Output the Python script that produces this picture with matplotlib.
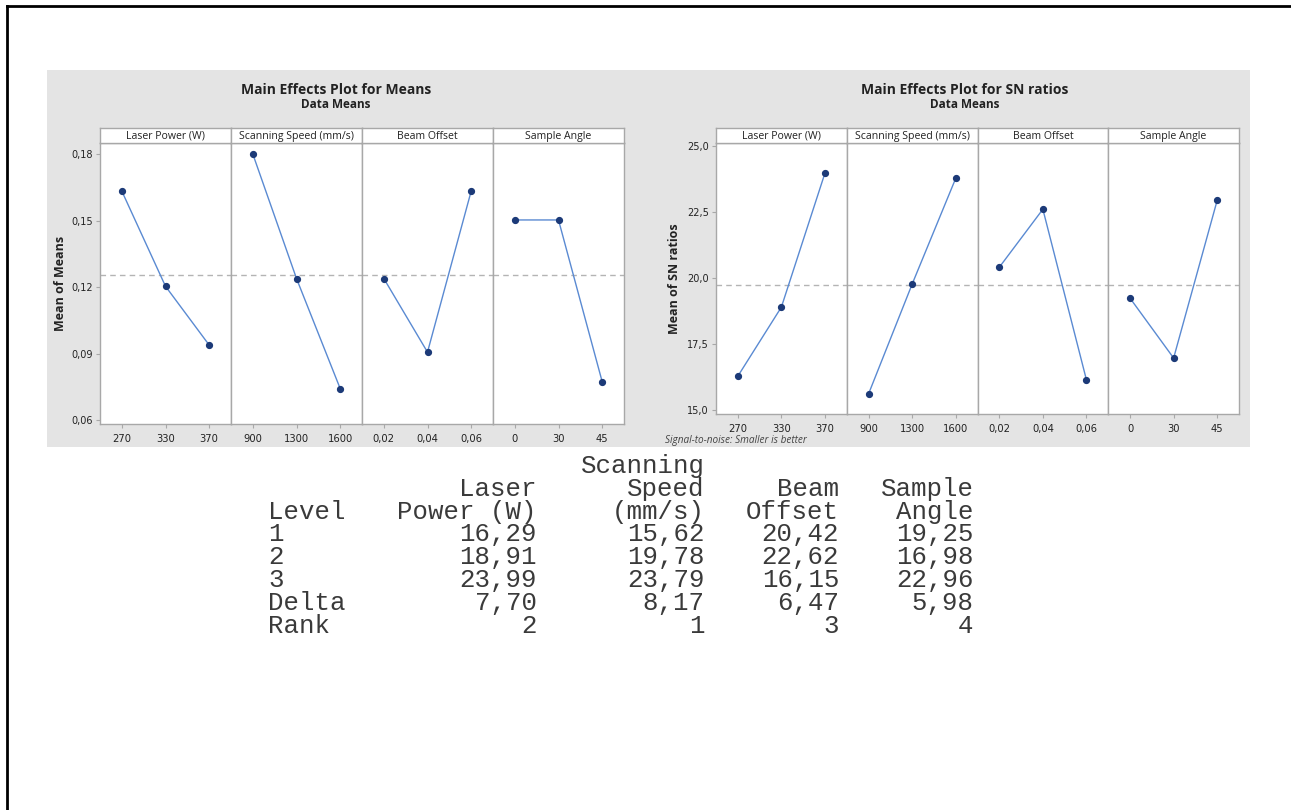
import matplotlib.pyplot as plt
from matplotlib.patches import Rectangle
from matplotlib.lines import Line2D

# Factors and their levels
factors = ['Laser Power (W)', 'Scanning Speed (mm/s)', 'Beam Offset', 'Sample Angle']
levels = [['270', '330', '370'], ['900', '1300', '1600'],
          ['0,02', '0,04', '0,06'], ['0', '30', '45']]

# Main effects for means
means_lp = [0.1633, 0.1204, 0.0939]
means_ss = [0.1800, 0.1239, 0.0743]
means_bo = [0.1239, 0.0907, 0.1633]
means_sa = [0.1503, 0.1503, 0.0774]
grand_mean = 0.1257

# Main effects for SN ratios (from the response table)
sn_lp = [16.29, 18.91, 23.99]
sn_ss = [15.62, 19.78, 23.79]
sn_bo = [20.42, 22.62, 16.15]
sn_sa = [19.25, 16.98, 22.96]
grand_sn = 19.73
delta = [7.70, 8.17, 6.47, 5.98]
rank = [2, 1, 3, 4]

# response table headers (three header lines per column)
row_names = ['1', '2', '3', 'Delta', 'Rank']
col_heads = [['', '', 'Level'], ['', 'Laser', 'Power (W)'], ['Scanning', 'Speed', '(mm/s)'],
             ['', 'Beam', 'Offset'], ['', 'Sample', 'Angle']]

means_ticks = [0.06, 0.09, 0.12, 0.15, 0.18]
means_ticklabels = ['0,06', '0,09', '0,12', '0,15', '0,18']
sn_ticks = [15.0, 17.5, 20.0, 22.5, 25.0]
sn_ticklabels = ['15,0', '17,5', '20,0', '22,5', '25,0']

W, H = 1291, 810
fig = plt.figure(figsize=(W / 100, H / 100), dpi=100)
fig.patch.set_facecolor('white')


def box(x0, y0, x1, y1):
    # pixel box (top-left origin) -> figure fraction
    return [x0 / W, 1 - y1 / H, (x1 - x0) / W, (y1 - y0) / H]


def fx(x):
    return x / W


def fy(y):
    return 1 - y / H


# outer frame (only top and left edges are visible in the picture)
fig.add_artist(Line2D([fx(7), fx(7)], [fy(6), 0], color='black', lw=2))
fig.add_artist(Line2D([fx(7), 1], [fy(6), fy(6)], color='black', lw=2))

# gray background band for the two Minitab graphs
fig.add_artist(Rectangle((fx(47), fy(447)), fx(1250) - fx(47), fy(70) - fy(447),
                         facecolor='#e4e4e4', edgecolor='none', zorder=0))

frame_col = '#a8a8a8'
line_col = '#5a8ad2'
dot_col = '#1c3a78'
txt_col = '#222222'


def effects_plot(x0, x1, top, strip_bot, bottom, data, ylim, ticks, ticklabels,
                 ylabel, ylab_x, grand):
    pw = (x1 - x0) / 4.0
    for i in range(4):
        left = x0 + i * pw
        ax = fig.add_axes(box(left, strip_bot, left + pw, bottom))
        ax.set_facecolor('white')
        ax.plot([0, 1, 2], data[i], color=line_col, lw=1.0, marker='o',
                ms=4.2, mfc=dot_col, mec=dot_col, zorder=3)
        ax.axhline(grand, color='#b4b4b4', lw=1.0, ls=(0, (4, 3)), zorder=2)
        ax.set_xlim(-0.5, 2.5)
        ax.set_ylim(*ylim)
        ax.set_xticks([0, 1, 2])
        ax.set_xticklabels(levels[i], fontsize=7.2, color=txt_col)
        ax.tick_params(axis='x', length=3, color=frame_col, pad=4)
        if i == 0:
            ax.set_yticks(ticks)
            ax.set_yticklabels(ticklabels, fontsize=7, color=txt_col)
            ax.tick_params(axis='y', length=3, color=frame_col, pad=2)
        else:
            ax.set_yticks([])
        for s in ax.spines.values():
            s.set_color(frame_col)
            s.set_linewidth(1.0)
        # strip with factor name
        sx = fig.add_axes(box(left, top, left + pw, strip_bot))
        sx.set_facecolor('white')
        sx.set_xticks([])
        sx.set_yticks([])
        for s in sx.spines.values():
            s.set_color(frame_col)
            s.set_linewidth(1.0)
        sx.text(0.5, 0.45, factors[i], ha='center', va='center', fontsize=7.6,
                color=txt_col, family='Open Sans', transform=sx.transAxes)
    fig.text(fx(ylab_x), fy((strip_bot + bottom) / 2), ylabel, rotation=90,
             ha='center', va='center', fontsize=9, fontweight='bold',
             color=txt_col, family='Open Sans')


effects_plot(100, 624, 128, 143, 424,
             [means_lp, means_ss, means_bo, means_sa],
             (0.0583, 0.1850), means_ticks, means_ticklabels,
             'Mean of Means', 60, grand_mean)
effects_plot(716, 1239, 128, 143, 414,
             [sn_lp, sn_ss, sn_bo, sn_sa],
             (14.86, 25.13), sn_ticks, sn_ticklabels,
             'Mean of SN ratios', 675, grand_sn)

# titles
fig.text(fx(336), fy(90), 'Main Effects Plot for Means', ha='center', va='center',
         fontsize=10, fontweight='bold', color=txt_col, family='Open Sans')
fig.text(fx(336), fy(105), 'Data Means', ha='center', va='center',
         fontsize=8.5, fontweight='bold', color=txt_col, family='Open Sans')
fig.text(fx(965), fy(90), 'Main Effects Plot for SN ratios', ha='center', va='center',
         fontsize=10, fontweight='bold', color=txt_col, family='Open Sans')
fig.text(fx(965), fy(105), 'Data Means', ha='center', va='center',
         fontsize=8.5, fontweight='bold', color=txt_col, family='Open Sans')
fig.text(fx(665), fy(441), 'Signal-to-noise: Smaller is better', ha='left',
         va='center', fontsize=7.2, style='italic', color='#444444',
         family='Open Sans')


# response table for SN ratios (Minitab text output), one text per column
def num(v):
    return ('%.2f' % v).replace('.', ',')


cw = 16.8                      # width of one character cell in pixels
x_start = 268
col_end = [5, 16, 26, 34, 42]  # right end of each column, in characters
cols = [row_names,
        [num(v) for v in sn_lp] + [num(delta[0]), str(rank[0])],
        [num(v) for v in sn_ss] + [num(delta[1]), str(rank[1])],
        [num(v) for v in sn_bo] + [num(delta[2]), str(rank[2])],
        [num(v) for v in sn_sa] + [num(delta[3]), str(rank[3])]]
y0, dy = 466, 22.8
tfont = dict(fontsize=18.5, family='Liberation Mono', color='#3a3a3a', va='center')
for c in range(5):
    cells = col_heads[c] + cols[c]
    for r, s in enumerate(cells):
        if not s:
            continue
        if c == 0:
            fig.text(fx(x_start), fy(y0 + r * dy), s, ha='left', **tfont)
        else:
            fig.text(fx(x_start + col_end[c] * cw), fy(y0 + r * dy), s,
                     ha='right', **tfont)

plt.savefig('out.png', dpi=100)
